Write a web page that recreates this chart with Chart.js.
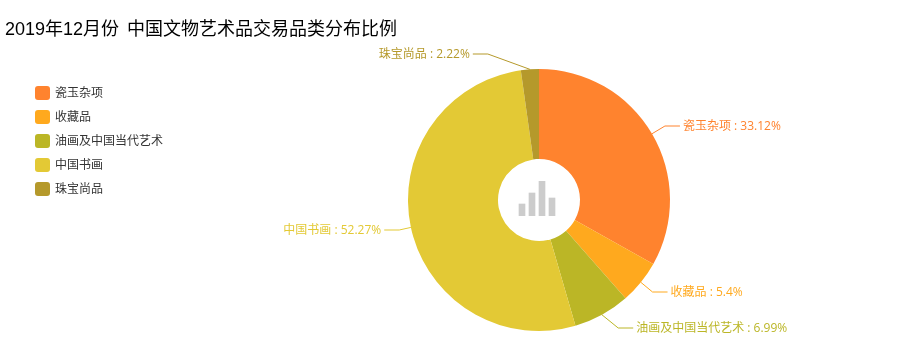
<!DOCTYPE html>
<html>
<head>
<meta charset="utf-8">
<style>
html, body { margin: 0; padding: 0; background: #fff; }
#wrap { position: relative; width: 908px; height: 356px; overflow: hidden; }
#title { position: absolute; left: 5px; top: 15px; font: 18px/28px "Liberation Sans", "Noto Sans CJK SC", sans-serif; word-spacing: 3px; color: #000; white-space: nowrap; }
#pie { position: absolute; left: 0; top: 0; }
#icon { position: absolute; left: 517px; top: 181px; }
</style>
<script src="https://cdn.jsdelivr.net/npm/chart.js@4/dist/chart.umd.min.js"></script>
</head>
<body>
<div id="wrap">
  <canvas id="pie" width="908" height="356"></canvas>
  <canvas id="icon" width="40" height="35"></canvas>
  <div id="title">2019年12月份 中国文物艺术品交易品类分布比例</div>
</div>
<script>
const categories = ['瓷玉杂项', '收藏品', '油画及中国当代艺术', '中国书画', '珠宝尚品'];
const shares = [33.12, 5.4, 6.99, 52.27, 2.22];
const colors = ['#ff832e', '#ffa91e', '#bbb626', '#e3c935', '#b5992b'];
// labels pushed sideways near the top and bottom of the pie
const labelShift = [0, 0, 9, 3, -41];
const labelLift = [0, 0, 0, 1, 0];
const iconBars = [12, 23, 35, 18];

const font = '12px "Open Sans", "Noto Sans CJK SC", sans-serif';

const legendPlugin = {
  id: 'sideLegend',
  afterDraw(chart) {
    const ctx = chart.ctx;
    ctx.save();
    ctx.font = font;
    ctx.textBaseline = 'middle';
    ctx.textAlign = 'left';
    categories.forEach((name, i) => {
      const y = 93 + i * 24;
      ctx.fillStyle = colors[i];
      ctx.beginPath();
      ctx.roundRect(35, y - 7, 15, 14, 3);
      ctx.fill();
      ctx.fillStyle = '#333';
      ctx.fillText(name, 55, y + 1);
    });
    ctx.restore();
  }
};

const labelPlugin = {
  id: 'leaderLabels',
  afterDraw(chart) {
    const ctx = chart.ctx;
    ctx.save();
    ctx.font = font;
    ctx.textBaseline = 'middle';
    chart.getDatasetMeta(0).data.forEach((arc, i) => {
      const mid = (arc.startAngle + arc.endAngle) / 2;
      const r = arc.outerRadius;
      const sx = arc.x + Math.cos(mid) * r;
      const sy = arc.y + Math.sin(mid) * r;
      const ex = arc.x + Math.cos(mid) * (r + 15) + labelShift[i];
      const ey = Math.round(arc.y + Math.sin(mid) * (r + 15)) - labelLift[i];
      const right = Math.cos(mid) > 0;
      const dir = right ? 1 : -1;
      ctx.strokeStyle = colors[i];
      ctx.lineWidth = 1;
      ctx.beginPath();
      ctx.moveTo(sx, sy);
      ctx.lineTo(ex, ey);
      ctx.lineTo(ex + dir * 15, ey);
      ctx.stroke();
      ctx.fillStyle = colors[i];
      ctx.textAlign = right ? 'left' : 'right';
      ctx.fillText(categories[i] + ' : ' + shares[i] + '%', ex + dir * 18, ey + 1);
    });
    ctx.restore();
  }
};

new Chart(document.getElementById('pie').getContext('2d'), {
  type: 'doughnut',
  data: {
    labels: categories,
    datasets: [{ data: shares, backgroundColor: colors, borderWidth: 0 }]
  },
  options: {
    responsive: false,
    animation: false,
    cutout: 41,
    layout: { padding: { left: 170, top: 69, bottom: 25 } },
    plugins: { legend: { display: false }, tooltip: { enabled: false } }
  },
  plugins: [legendPlugin, labelPlugin]
});

new Chart(document.getElementById('icon').getContext('2d'), {
  type: 'bar',
  data: {
    labels: iconBars.map((v, i) => i),
    datasets: [{ data: iconBars, backgroundColor: '#ccc', barThickness: 6 }]
  },
  options: {
    responsive: false,
    animation: false,
    scales: {
      x: { display: false },
      y: { display: false, min: 0, max: 35 }
    },
    plugins: { legend: { display: false }, tooltip: { enabled: false } }
  }
});
</script>
</body>
</html>
